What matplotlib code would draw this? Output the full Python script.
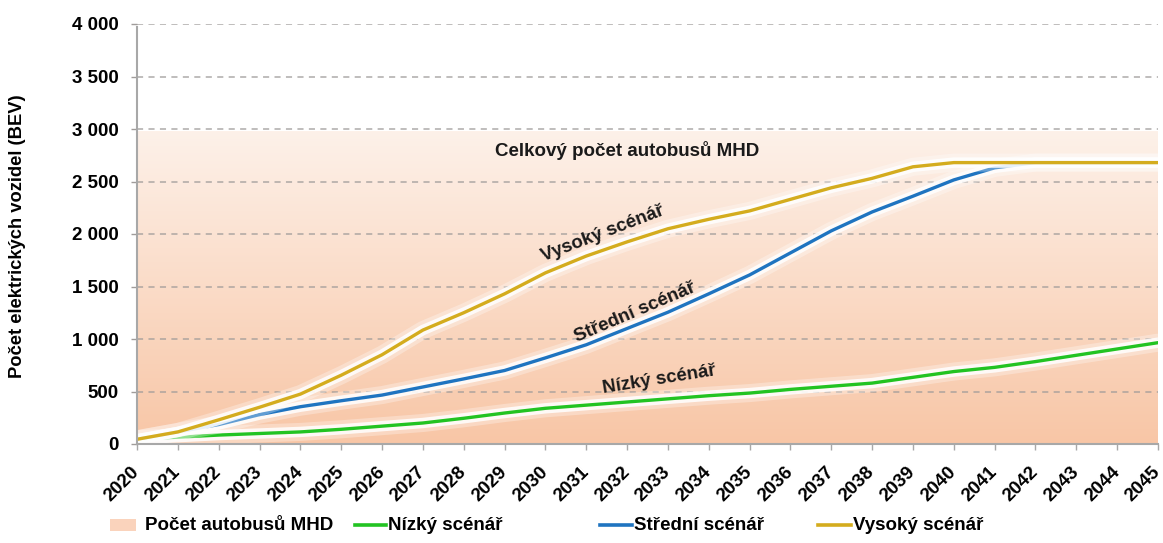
import numpy as np
import matplotlib
matplotlib.use("Agg")
import matplotlib.pyplot as plt
import matplotlib.patheffects as pe
from matplotlib.lines import Line2D
from matplotlib.patches import Rectangle
from matplotlib.ticker import FuncFormatter, MultipleLocator

plt.rcParams['font.family'] = ['Liberation Sans', 'DejaVu Sans']
plt.rcParams['font.weight'] = 'bold'

# --- data -------------------------------------------------------------
years = list(range(2020, 2046))

total_buses = [2980] * len(years)

low = [45, 65, 85, 100, 115, 140, 170, 200, 245, 295, 340, 370, 400, 430,
       460, 485, 520, 550, 580, 635, 690, 730, 785, 845, 905, 965]

mid = [45, 115, 185, 280, 355, 412, 466, 543, 620, 700, 820, 945, 1100, 1255,
       1430, 1610, 1820, 2030, 2210, 2360, 2515, 2630, 2680, 2680, 2680, 2680]

high = [45, 115, 230, 350, 475, 655, 850, 1085, 1250, 1430, 1630, 1790, 1925,
        2050, 2140, 2220, 2330, 2440, 2530, 2640, 2680, 2680, 2680, 2680, 2680,
        2680]

series_names = ["Počet autobusů MHD", "Nízký scénář", "Střední scénář", "Vysoký scénář"]
y_label = "Počet elektrických vozidel (BEV)"
area_label = "Celkový počet autobusů MHD"

# --- styling ----------------------------------------------------------
c_low = "#22C322"
c_mid = "#1F74C0"
c_high = "#D4AC1E"
c_grid = "#A09C9A"
c_axis = "#A8A8A8"
fs = 13.5

fig = plt.figure(figsize=(11.63, 5.43), dpi=100)
ax = fig.add_axes([137 / 1163, 1 - 444 / 543, (1158 - 137) / 1163, (444 - 24) / 543])

ax.set_xlim(2020, 2045)
ax.set_ylim(0, 4000)

# gradient-filled total area
area = ax.fill_between(years, 0, total_buses, facecolor="none", edgecolor="none", zorder=0.5)
grad = np.linspace(0, 1, 256).reshape(-1, 1)
top_c = np.array([253, 241, 233]) / 255
bot_c = np.array([248, 198, 166]) / 255
img = top_c[None, None, :] * grad[:, :, None] + bot_c[None, None, :] * (1 - grad[:, :, None])
im = ax.imshow(img, extent=[years[0], years[-1], 0, max(total_buses)], origin="lower",
               aspect="auto", zorder=0.5, interpolation="bilinear")
im.set_clip_path(area.get_paths()[0], transform=ax.transData)

# grid
ax.yaxis.set_major_locator(MultipleLocator(500))
ax.grid(axis="y", color=c_grid, linestyle=(0, (4, 3.5)), linewidth=1.1, alpha=0.85, zorder=1)
ax.set_axisbelow(False)
for gl in ax.get_ygridlines():
    gl.set_zorder(1)

glow = [pe.Stroke(linewidth=13, foreground="white", alpha=0.3),
        pe.Stroke(linewidth=7.5, foreground="white", alpha=0.85),
        pe.Normal()]

ax.plot(years, low, color=c_low, lw=2.4, zorder=3, path_effects=glow, solid_capstyle="round")
ax.plot(years, mid, color=c_mid, lw=2.4, zorder=4, path_effects=glow, solid_capstyle="round")
ax.plot(years, high, color=c_high, lw=2.4, zorder=5, path_effects=glow, solid_capstyle="round")

# axes appearance
for s in ["top", "right"]:
    ax.spines[s].set_visible(False)
ax.spines["left"].set_color(c_axis)
ax.spines["left"].set_linewidth(1.5)
ax.spines["left"].set_bounds(0, 3975)
ax.spines["bottom"].set_color(c_axis)
ax.spines["bottom"].set_linewidth(1.5)
ax.spines["left"].set_zorder(6)
ax.spines["bottom"].set_zorder(6)

ax.set_xticks(years)
ax.set_xticklabels([str(y) for y in years], rotation=45, ha="right", va="center",
                   rotation_mode="anchor", fontsize=fs, fontweight="bold")
ax.tick_params(axis="x", direction="out", length=4, width=1, color=c_axis, pad=14)
ax.tick_params(axis="y", direction="out", length=4.5, width=1, color=c_grid, pad=9,
               labelsize=fs)
ax.yaxis.set_major_formatter(FuncFormatter(lambda v, p: f"{v:,.0f}".replace(",", " ")))
for lab in ax.get_yticklabels():
    lab.set_fontweight("bold")

fig.text(18 / 1163, 1 - 236 / 543, y_label, rotation=90, ha="center", va="center",
         fontsize=13.2, fontweight="bold")

# in-plot labels
ax.text(2032.0, 2800, area_label, ha="center", va="center", fontsize=fs, fontweight="bold",
        color="#1a1a1a", zorder=7)
ax.text(2031.4, 2000, series_names[3], ha="center", va="center", rotation=21,
        rotation_mode="anchor", fontsize=fs, fontweight="bold", color="#1a1a1a", zorder=7)
ax.text(2032.2, 1250, series_names[2], ha="center", va="center", rotation=23,
        rotation_mode="anchor", fontsize=fs, fontweight="bold", color="#1a1a1a", zorder=7)
ax.text(2032.8, 615, series_names[1], ha="center", va="center", rotation=9,
        rotation_mode="anchor", fontsize=fs, fontweight="bold", color="#1a1a1a", zorder=7)

# legend
ly = 1 - 525 / 543
fig.patches.append(Rectangle((110 / 1163, ly - 6 / 543), 26 / 1163, 12 / 543,
                             transform=fig.transFigure, facecolor="#FAD3BC",
                             edgecolor="none"))
fig.text(145 / 1163, ly, series_names[0], ha="left", va="center", fontsize=fs, fontweight="bold")
for x0, x1, col, name in [(355, 386, c_low, series_names[1]),
                          (600, 632, c_mid, series_names[2]),
                          (818, 851, c_high, series_names[3])]:
    fig.lines.append(Line2D([x0 / 1163, x1 / 1163], [ly, ly], transform=fig.transFigure,
                            color=col, lw=2.6))
    fig.text((x1 + 2) / 1163, ly, name, ha="left", va="center", fontsize=fs, fontweight="bold")

fig.savefig("out.png", dpi=100)
